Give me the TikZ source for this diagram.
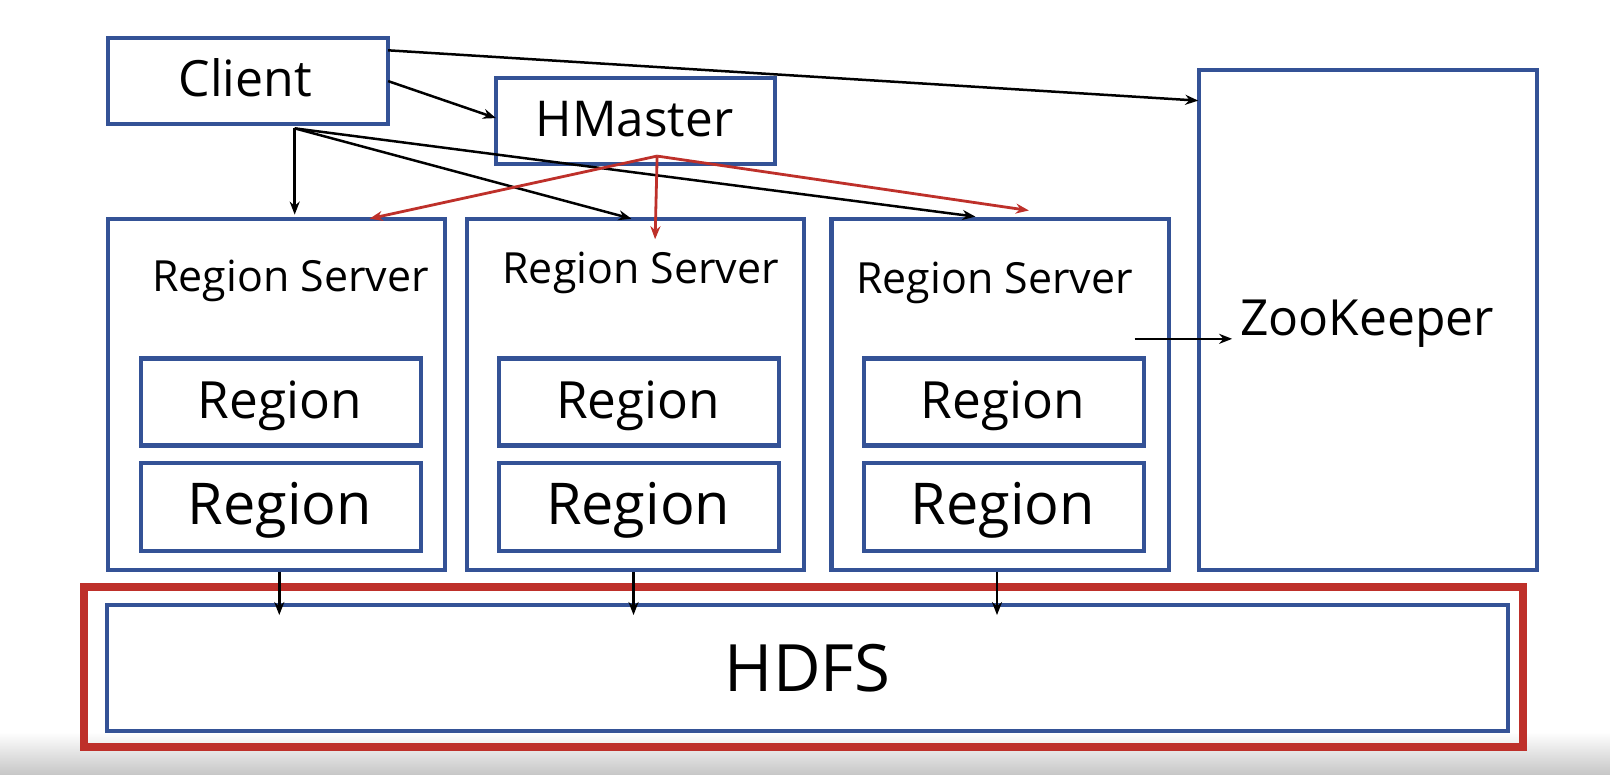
\documentclass[tikz,border=0pt]{standalone}
\usepackage{fontspec}
\setmainfont{Open Sans}
\usetikzlibrary{arrows.meta}
\definecolor{boxblue}{RGB}{52,82,150}
\definecolor{frred}{RGB}{190,48,42}
\tikzset{
  box/.style={draw=boxblue, line width=4.2pt, fill=white, rectangle, inner sep=0pt},
  arr/.style={black, line width=2.5pt, -{Stealth[length=13pt,width=10pt]}},
  rarr/.style={frred, line width=2.8pt, -{Stealth[length=13pt,width=10pt]}},
  lbl/.style={inner sep=0pt, text=black, anchor=base},
}
\newcommand{\fs}[1]{\fontsize{#1}{#1}\selectfont}
\begin{document}
\begin{tikzpicture}[x=1.0267pt,y=-1.0267pt]
\useasboundingbox (0,0) rectangle (1568,754);
\fill[white] (0,0) rectangle (1568,754);
\shade[top color=white, bottom color=black!22] (0,713) rectangle (1568,754);

% boxes
\node[box, minimum width=280pt, minimum height=86pt] (client) at (241.5,79) {};
\node[lbl, font=\fs{50}] (clientt) at (239,94.2) {Client};
\node[box, minimum width=279pt, minimum height=86pt] (hmaster) at (619,118) {};
\node[lbl, font=\fs{49.4}] (hmastert) at (618,133) {HMaster};
\node[box, minimum width=338pt, minimum height=500pt] (zk) at (1332.5,311.5) {};
\node[lbl, font=\fs{49.8}] (zktext) at (1331.5,327) {ZooKeeper};

\node[box, minimum width=337pt, minimum height=351pt] (rs1) at (269,384) {};
\node[box, minimum width=337pt, minimum height=351pt] (rs2) at (619,384) {};
\node[box, minimum width=337pt, minimum height=351pt] (rs3) at (974,384) {};
\node[lbl, font=\fs{42.9}] (rs1t) at (283,283.5) {Region Server};
\node[lbl, font=\fs{42.9}] (rs2t) at (624,276.5) {Region Server};
\node[lbl, font=\fs{42.9}] (rs3t) at (968.5,285.5) {Region Server};

\node[box, minimum width=280pt, minimum height=87pt] (r1a) at (273.5,391.5) {};
\node[box, minimum width=280pt, minimum height=88pt] (r1b) at (273.5,494) {};
\node[box, minimum width=280pt, minimum height=87pt] (r2a) at (622.5,391.5) {};
\node[box, minimum width=280pt, minimum height=88pt] (r2b) at (622.5,494) {};
\node[box, minimum width=280pt, minimum height=87pt] (r3a) at (977.5,391.5) {};
\node[box, minimum width=280pt, minimum height=88pt] (r3b) at (977.5,494) {};
\node[lbl, font=\fs{51.3}] (r1at) at (272.5,407.5) {Region};
\node[lbl, font=\fs{57.6}] (r1bt) at (272.5,511) {Region};
\node[lbl, font=\fs{51.3}] (r2at) at (621.5,407.5) {Region};
\node[lbl, font=\fs{57.6}] (r2bt) at (621.5,511) {Region};
\node[lbl, font=\fs{51.3}] (r3at) at (976.5,407.5) {Region};
\node[lbl, font=\fs{57.6}] (r3bt) at (976.5,511) {Region};

\node[draw=frred, line width=8pt, rectangle, minimum width=1438pt, minimum height=160pt, inner sep=0pt] (frame) at (782.5,650) {};
\node[box, minimum width=1401pt, minimum height=126pt, font=\fs{65.3}] (hdfs) at (786.5,650.5) {HDFS};

% coordinates for connector ends
\coordinate (cl1) at (378,49);
\coordinate (zkin) at (1167,98);
\coordinate (cl2) at (378,79);
\coordinate (hmin) at (483,115);
\coordinate (clb) at (287,125);
\coordinate (rs1in) at (287,209);
\coordinate (rs2in) at (615,213);
\coordinate (rs3in) at (950,211);
\coordinate (hmb) at (640,152);
\coordinate (rs1r) at (360,213);
\coordinate (rs2r) at (638,233);
\coordinate (rs3r) at (1002,205);
\coordinate (zka) at (1105,330);
\coordinate (zkb) at (1200,330);
\coordinate (h1) at (272,599);
\coordinate (h2) at (617,599);
\coordinate (h3) at (971,599);

% client connectors
\draw[arr] (cl1) -- (zkin);
\draw[arr] (cl2) -- (hmin);
\draw[arr] (clb) -- (rs1in);
\draw[arr] (clb) -- (rs2in);
\draw[arr] (clb) -- (rs3in);
% hmaster connectors
\draw[rarr] (hmb) -- (rs1r);
\draw[rarr] (hmb) -- (rs2r);
\draw[rarr] (hmb) -- (rs3r);
% zookeeper
\draw[arr] (zka) -- (zkb);
% to HDFS
\draw[arr] (rs1.south -| h1) -- (h1);
\draw[arr] (rs2.south -| h2) -- (h2);
\draw[arr] (rs3.south -| h3) -- (h3);
\end{tikzpicture}
\end{document}
